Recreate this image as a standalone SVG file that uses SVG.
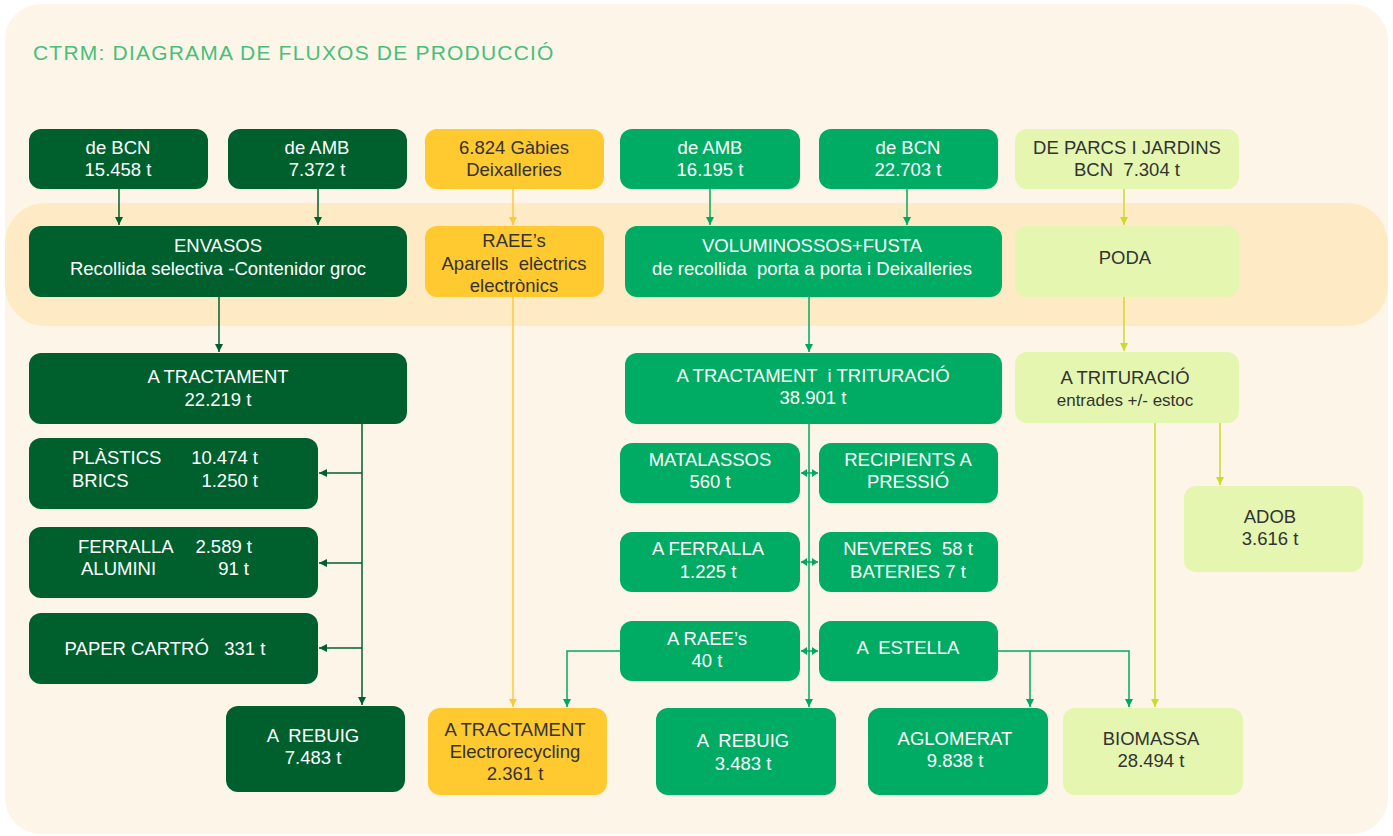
<svg xmlns="http://www.w3.org/2000/svg" width="1393" height="836" viewBox="0 0 1393 836">
<style>
text{font-family:"Liberation Sans",Arial,Helvetica,sans-serif;font-size:18.5px;text-anchor:middle;white-space:pre}
.w{fill:#ffffff}
.k{fill:#333333}
.dk{fill:#00602d}
.md{fill:#00ab63}
.yl{fill:#ffc930}
.lg{fill:#e4f6b0}
.ld{stroke:#00602d;stroke-width:1.5;fill:none}
.lm{stroke:#00a960;stroke-width:1.5;fill:none}
.ly{stroke:#fcc93a;stroke-width:1.5;fill:none}
.ll{stroke:#cbdb2a;stroke-width:1.5;fill:none}
.st{text-anchor:start}
.en{text-anchor:end}
</style>
<defs>
<marker id="ad" markerWidth="10" markerHeight="10" refX="9" refY="5" orient="auto" markerUnits="userSpaceOnUse"><path d="M1,1 L9,5 L1,9 Z" fill="#00602d"/></marker>
<marker id="am" markerWidth="10" markerHeight="10" refX="9" refY="5" orient="auto" markerUnits="userSpaceOnUse"><path d="M1,1 L9,5 L1,9 Z" fill="#00a960"/></marker>
<marker id="sm" markerWidth="8" markerHeight="10" refX="7" refY="5" orient="auto" markerUnits="userSpaceOnUse"><path d="M1,1 L7,5 L1,9 Z" fill="#00a960"/></marker>
<marker id="sms" markerWidth="8" markerHeight="10" refX="1" refY="5" orient="auto" markerUnits="userSpaceOnUse"><path d="M7,1 L1,5 L7,9 Z" fill="#00a960"/></marker>
<marker id="ay" markerWidth="10" markerHeight="10" refX="9" refY="5" orient="auto" markerUnits="userSpaceOnUse"><path d="M1,1 L9,5 L1,9 Z" fill="#fcc93a"/></marker>
<marker id="al" markerWidth="10" markerHeight="10" refX="9" refY="5" orient="auto" markerUnits="userSpaceOnUse"><path d="M1,1 L9,5 L1,9 Z" fill="#cbdb2a"/></marker>
</defs>
<rect x="0" y="0" width="1393" height="836" fill="#ffffff"/>
<rect x="5" y="4" width="1383" height="830" rx="36" fill="#fdf6e8"/>
<rect x="5" y="203" width="1383" height="123" rx="40" fill="#feebc6"/>
<text x="33" y="60" class="st" style="font-size:21px;fill:#45c07a;letter-spacing:1.2px">CTRM: DIAGRAMA DE FLUXOS DE PRODUCCIÓ</text>

<g id="connectors">
<path class="ld" d="M119,189 V225" marker-end="url(#ad)"/>
<path class="ld" d="M318,189 V225" marker-end="url(#ad)"/>
<path class="ld" d="M219,297 V352" marker-end="url(#ad)"/>
<path class="ld" d="M362,424 V705" marker-end="url(#ad)"/>
<path class="ld" d="M362,473 H319" marker-end="url(#ad)"/>
<path class="ld" d="M362,563 H319" marker-end="url(#ad)"/>
<path class="ld" d="M362,648 H319" marker-end="url(#ad)"/>
<path class="ly" d="M513,189 V225" marker-end="url(#ay)"/>
<path class="ly" d="M513,297 V707" marker-end="url(#ay)"/>
<path class="lm" d="M710,189 V225" marker-end="url(#am)"/>
<path class="lm" d="M907,189 V225" marker-end="url(#am)"/>
<path class="lm" d="M809,297 V352" marker-end="url(#am)"/>
<path class="lm" d="M809,424 V707" marker-end="url(#am)"/>
<path class="lm" d="M801,473 H818" marker-start="url(#sms)" marker-end="url(#sm)"/>
<path class="lm" d="M801,562 H818" marker-start="url(#sms)" marker-end="url(#sm)"/>
<path class="lm" d="M801,651 H818" marker-start="url(#sms)" marker-end="url(#sm)"/>
<path class="lm" d="M627,651 H567 V707" marker-end="url(#am)"/>
<path class="lm" d="M992,651 H1129 V707" marker-end="url(#am)"/>
<path class="lm" d="M1030,651 V707" marker-end="url(#am)"/>
<path class="ll" d="M1124,189 V225" marker-end="url(#al)"/>
<path class="ll" d="M1124,297 V351" marker-end="url(#al)"/>
<path class="ll" d="M1220,423 V485" marker-end="url(#al)"/>
<path class="ll" d="M1155,423 V707" marker-end="url(#al)"/>
</g>

<g id="n-bcn1"><rect class="dk" x="29" y="129" width="179" height="60" rx="12"/><text class="w" x="118" y="154">de BCN</text><text class="w" x="118" y="176">15.458 t</text></g>
<g id="n-amb1"><rect class="dk" x="228" y="129" width="179" height="60" rx="12"/><text class="w" x="317" y="154">de AMB</text><text class="w" x="317" y="176">7.372 t</text></g>
<g id="n-gabies"><rect class="yl" x="425" y="129" width="179" height="60" rx="12"/><text class="k" x="514" y="154">6.824 Gàbies</text><text class="k" x="514" y="176">Deixalleries</text></g>
<g id="n-amb2"><rect class="md" x="620" y="129" width="180" height="60" rx="12"/><text class="w" x="710" y="154">de AMB</text><text class="w" x="710" y="176">16.195 t</text></g>
<g id="n-bcn2"><rect class="md" x="819" y="129" width="179" height="60" rx="12"/><text class="w" x="908" y="154">de BCN</text><text class="w" x="908" y="176">22.703 t</text></g>
<g id="n-parcs"><rect class="lg" x="1015" y="129" width="224" height="60" rx="12"/><text class="k" x="1127" y="154">DE PARCS I JARDINS</text><text class="k" x="1127" y="176">BCN  7.304 t</text></g>

<g id="n-envasos"><rect class="dk" x="29" y="226" width="378" height="71" rx="12"/><text class="w" x="218" y="252">ENVASOS</text><text class="w" x="218" y="275">Recollida selectiva -Contenidor groc</text></g>
<g id="n-raee"><rect class="yl" x="425" y="226" width="179" height="71" rx="12"/><text class="k" x="514" y="247">RAEE’s</text><text class="k" x="514" y="270">Aparells  elèctrics</text><text class="k" x="514" y="292">electrònics</text></g>
<g id="n-volum"><rect class="md" x="625" y="226" width="377" height="71" rx="12"/><text class="w" x="812" y="252">VOLUMINOSSOS+FUSTA</text><text class="w" x="812" y="275">de recollida  porta a porta i Deixalleries</text></g>
<g id="n-poda"><rect class="lg" x="1015" y="226" width="224" height="71" rx="12"/><text class="k" x="1125" y="264">PODA</text></g>

<g id="n-tract1"><rect class="dk" x="29" y="353" width="378" height="71" rx="12"/><text class="w" x="218" y="383">A TRACTAMENT</text><text class="w" x="218" y="406">22.219 t</text></g>
<g id="n-tract2"><rect class="md" x="625" y="353" width="377" height="71" rx="12"/><text class="w" x="813" y="382">A TRACTAMENT  i TRITURACIÓ</text><text class="w" x="813" y="404">38.901 t</text></g>
<g id="n-trit"><rect class="lg" x="1015" y="352" width="224" height="71" rx="12"/><text class="k" x="1125" y="384">A TRITURACIÓ</text><text class="k" x="1125" y="406" style="font-size:17px">entrades +/- estoc</text></g>

<g id="n-plastics"><rect class="dk" x="29" y="438" width="289" height="71" rx="12"/><text class="w st" x="72" y="464">PLÀSTICS</text><text class="w en" x="258" y="464">10.474 t</text><text class="w st" x="72" y="487">BRICS</text><text class="w en" x="258" y="487">1.250 t</text></g>
<g id="n-ferralla1"><rect class="dk" x="29" y="527" width="289" height="71" rx="12"/><text class="w st" x="78" y="553">FERRALLA</text><text class="w en" x="252" y="553">2.589 t</text><text class="w st" x="81" y="575">ALUMINI</text><text class="w en" x="249" y="575">91 t</text></g>
<g id="n-paper"><rect class="dk" x="29" y="613" width="289" height="71" rx="12"/><text class="w" x="165" y="655">PAPER CARTRÓ   331 t</text></g>
<g id="n-rebuig1"><rect class="dk" x="226" y="706" width="179" height="86" rx="12"/><text class="w" x="313" y="742">A  REBUIG</text><text class="w" x="313" y="764">7.483 t</text></g>

<g id="n-electro"><rect class="yl" x="428" y="708" width="179" height="87" rx="12"/><text class="k" x="515" y="736">A TRACTAMENT</text><text class="k" x="515" y="758">Electrorecycling</text><text class="k" x="515" y="780">2.361 t</text></g>

<g id="n-matal"><rect class="md" x="620" y="443" width="180" height="60" rx="12"/><text class="w" x="710" y="466">MATALASSOS</text><text class="w" x="710" y="488">560 t</text></g>
<g id="n-recip"><rect class="md" x="819" y="443" width="179" height="60" rx="12"/><text class="w" x="908" y="466">RECIPIENTS A</text><text class="w" x="908" y="488">PRESSIÓ</text></g>
<g id="n-ferralla2"><rect class="md" x="620" y="532" width="180" height="60" rx="12"/><text class="w" x="708" y="555">A FERRALLA</text><text class="w" x="708" y="578">1.225 t</text></g>
<g id="n-neveres"><rect class="md" x="819" y="532" width="179" height="60" rx="12"/><text class="w" x="908" y="555">NEVERES  58 t</text><text class="w" x="908" y="578">BATERIES 7 t</text></g>
<g id="n-araee"><rect class="md" x="620" y="621" width="180" height="60" rx="12"/><text class="w" x="707" y="645">A RAEE’s</text><text class="w" x="707" y="667">40 t</text></g>
<g id="n-estella"><rect class="md" x="819" y="621" width="179" height="60" rx="12"/><text class="w" x="908" y="654">A  ESTELLA</text></g>

<g id="n-rebuig2"><rect class="md" x="656" y="708" width="180" height="87" rx="12"/><text class="w" x="743" y="747">A  REBUIG</text><text class="w" x="743" y="770">3.483 t</text></g>
<g id="n-aglom"><rect class="md" x="868" y="708" width="180" height="87" rx="12"/><text class="w" x="955" y="745">AGLOMERAT</text><text class="w" x="955" y="767">9.838 t</text></g>
<g id="n-biomassa"><rect class="lg" x="1063" y="708" width="180" height="87" rx="12"/><text class="k" x="1151" y="745">BIOMASSA</text><text class="k" x="1151" y="767">28.494 t</text></g>
<g id="n-adob"><rect class="lg" x="1184" y="486" width="179" height="86" rx="12"/><text class="k" x="1270" y="523">ADOB</text><text class="k" x="1270" y="545">3.616 t</text></g>
</svg>
